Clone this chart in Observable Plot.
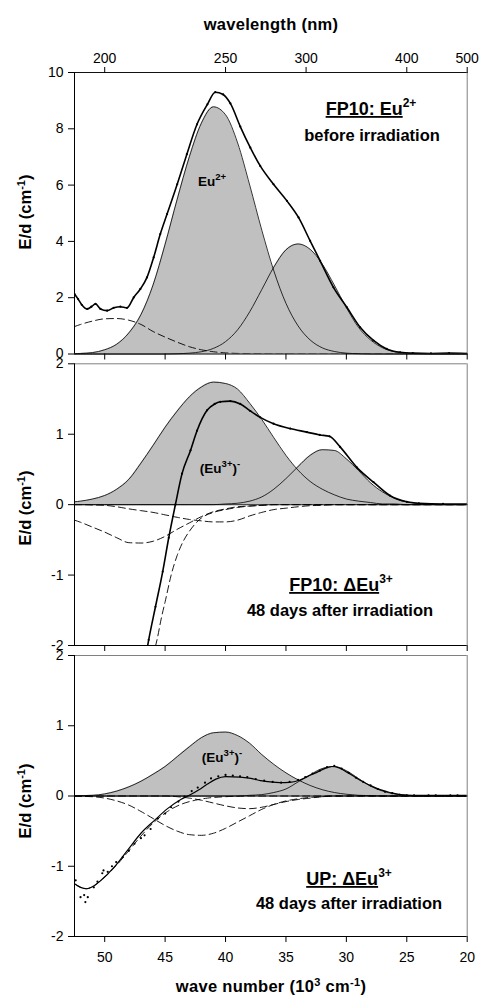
<!DOCTYPE html>
<html><head><meta charset="utf-8">
<script src="https://cdn.jsdelivr.net/npm/d3@7"></script>
<script src="https://cdn.jsdelivr.net/npm/@observablehq/plot@0.6"></script>
<style>
body{margin:0;background:#fff;}
#wrap{position:relative;width:480px;height:998px;background:#fff;}
#wrap > svg{position:absolute;left:0;}
#overlay{position:absolute;left:0;top:0;pointer-events:none;}
</style></head><body><div id="wrap"></div>
<script>
// ---------- data (wave number in 10^3 cm^-1) ----------
const WN = [52.5,52,51,50,49,48,47,46,45,44,43,42,41,40,39,38,37,36,35,34,33,32,31,30,29,28,27,26,25,24,23,22,21,20];
const wnTicks = [50,45,40,35,30,25,20];
const wlTicks = [200,250,300,400,500];
const topYTicks = [0,2,4,6,8,10];
const diffYTicks = [-2,-1,0,1,2];

// Panel 1: FP10 Eu2+ before irradiation
const topEu2    = [0.01,0.02,0.05,0.15,0.35,0.75,1.4,2.45,3.9,5.5,7.0,8.2,8.78,8.5,7.5,6.0,4.4,2.95,1.8,1.0,0.5,0.22,0.09,0.03,0.01,0,0,0,0,0,0,0,0,0];
const topBand2  = [0,0,0,0,0,0,0,0,0,0.01,0.03,0.08,0.2,0.44,0.86,1.5,2.29,3.09,3.70,3.91,3.72,3.2,2.45,1.65,0.95,0.5,0.22,0.08,0.03,0.01,0,0,0,0];
const topDash   = [0.975,1.05,1.17,1.25,1.26,1.2,1.05,0.8,0.6,0.42,0.26,0.15,0.08,0.04,0.02,0.01,0.005,0,0,0,0,0,0,0,0,0,0,0,0,0,0,0,0,0];
const topDataX  = [52.5,52.2,51.9,51.45,51.1,50.76,50.35,49.8,49.25,48.7,48.15,47.6,47.05,46.5,45.95,45.4,44.84,44.0,43.2,42.36,41.5,40.85,40.2,39.6,38.78,37.95,37.13,36.03,34.92,33.96,33.0,32.17,31.07,29.96,28.86,27.76,26.66,25.55,24.5,23.0,21.5,20];
const topDataY  = [2.13,1.95,1.75,1.6,1.68,1.78,1.6,1.54,1.64,1.68,1.64,2.01,2.31,2.72,3.43,4.26,4.97,6.03,7.1,8.16,8.87,9.3,9.22,8.9,8.08,7.33,6.68,6.03,5.44,4.85,4.02,3.31,2.37,1.66,0.95,0.48,0.18,0.06,0.03,0.02,0.03,0.02];

// Panel 2: FP10 dEu3+ 48 days after irradiation
const midEu3    = [0.04,0.05,0.08,0.13,0.22,0.36,0.59,0.84,1.1,1.33,1.53,1.67,1.74,1.72,1.64,1.44,1.21,0.95,0.7,0.49,0.33,0.22,0.14,0.08,0.05,0.03,0.01,0.01,0,0,0,0,0,0];
const midBand2  = [0,0,0,0,0,0,0,0,0,0,0,0,0,0.01,0.02,0.05,0.11,0.22,0.37,0.54,0.70,0.78,0.77,0.65,0.485,0.31,0.18,0.09,0.04,0.015,0.005,0,0,0];
const midDashA  = [-0.22,-0.25,-0.32,-0.39,-0.47,-0.54,-0.545,-0.52,-0.45,-0.35,-0.26,-0.17,-0.1,-0.06,-0.03,-0.02,-0.01,0,0,0,0,0,0,0,0,0,0,0,0,0,0,0,0,0];
const midDashB  = [0,0,-0.005,-0.01,-0.03,-0.06,-0.085,-0.11,-0.145,-0.18,-0.21,-0.23,-0.245,-0.245,-0.22,-0.16,-0.11,-0.07,-0.05,-0.03,-0.015,-0.01,0,0,0,0,0,0,0,0,0,0,0,0];
const midDashCX = [47,46.5,46,45.67,45.3,45,44.5,44,43.5,43,42.5,42,41,40,39,38,37,36,34,20];
const midDashCY = [-3.4,-2.6,-2.15,-1.92,-1.6,-1.38,-1.0,-0.72,-0.52,-0.38,-0.27,-0.19,-0.11,-0.07,-0.04,-0.02,-0.01,0,0,0];
const midDataX  = [46.7,46.36,45.8,45.2,44.7,44.15,43.6,42.9,42.36,41.53,40.9,40.43,39.6,38.78,37.95,37.13,36.03,34.65,33.27,32.2,31.4,30.52,29.14,27.76,26.4,25.0,24,22,20];
const midDataY  = [-2.25,-1.92,-1.45,-0.95,-0.47,0,0.44,0.77,1.05,1.34,1.43,1.46,1.47,1.43,1.33,1.24,1.15,1.08,1.03,0.99,0.97,0.82,0.53,0.32,0.13,0.04,0.02,0.01,0.01];

// Panel 3: UP dEu3+ 48 days after irradiation
const botEu3    = [0,0.005,0.01,0.03,0.07,0.13,0.21,0.31,0.42,0.56,0.7,0.83,0.9,0.91,0.86,0.75,0.59,0.45,0.33,0.23,0.15,0.09,0.05,0.025,0.01,0.005,0,0,0,0,0,0,0,0];
const botBand2  = [0,0,0,0,0,0,0,0,0,0,0,0,0,0,0,0.01,0.02,0.05,0.1,0.2,0.3,0.39,0.42,0.36,0.25,0.14,0.07,0.03,0.01,0,0,0,0,0];
const botDashA  = [0,-0.005,-0.01,-0.03,-0.07,-0.13,-0.22,-0.32,-0.42,-0.5,-0.55,-0.56,-0.53,-0.46,-0.37,-0.28,-0.19,-0.12,-0.07,-0.04,-0.02,-0.01,0,0,0,0,0,0,0,0,0,0,0,0];
const botDashB  = [0,0,0,0,0,0,0,0,0,-0.01,-0.03,-0.06,-0.1,-0.14,-0.17,-0.18,-0.16,-0.12,-0.08,-0.05,-0.03,-0.01,0,0,0,0,0,0,0,0,0,0,0,0];
const botDashCX = [52.5,52,51.5,51,50.3,49.2,48.1,47.0,45.9,44.8,43.7,42.5,41.5,40,38,36,20];
const botDashCY = [-1.25,-1.3,-1.32,-1.29,-1.2,-1.02,-0.8,-0.57,-0.37,-0.22,-0.12,-0.06,-0.03,-0.01,0,0,0];
const botFitX   = [52.5,52,51.5,51,50.3,49.2,48.1,47.0,45.9,44.8,43.7,43.0,42.2,41.5,40.8,40.0,38.8,37.9,37.1,36.3,35.5,34.7,33.96,33.2,32.4,31.8,31.2,30.6,29.96,29.3,28.6,27.9,27.2,26.4,25.6,24.5,22,20];
const botFitY   = [-1.25,-1.3,-1.32,-1.29,-1.2,-1.01,-0.77,-0.53,-0.35,-0.18,-0.05,0.01,0.09,0.17,0.24,0.275,0.27,0.25,0.22,0.2,0.19,0.195,0.22,0.28,0.34,0.39,0.42,0.4,0.34,0.27,0.2,0.14,0.09,0.05,0.02,0.01,0.01,0.01];
const botMeasX  = [52.4,52.0,51.7,51.6,51.4,50.9,50.6,50.2,50.1,49.75,49.4,49.05,48.5,48.0,47.54,47.0,46.7,46.2,45.6,45.0,44.5,43.9,43.4,42.8,42.3,41.7,41.2,40.6,40.0,39.4,38.8,38.2,37.5,36.8,36.1,35.4,34.7,34.0,33.4,32.8,32.2,31.6,31.0,30.4,29.8,29.2,28.6,28.0,27.4,26.8,26.2,25.6,25.0,24.4,23.8,23.2,22.6,22.0,21.4,20.8,20.2];
const botMeasY  = [-1.2,-1.44,-1.41,-1.51,-1.44,-1.3,-1.22,-1.1,-1.06,-1.08,-1.0,-0.94,-0.87,-0.78,-0.68,-0.6,-0.56,-0.47,-0.32,-0.25,-0.16,-0.08,-0.01,0.07,0.12,0.19,0.25,0.28,0.3,0.29,0.28,0.27,0.24,0.22,0.2,0.19,0.2,0.23,0.27,0.32,0.36,0.41,0.43,0.39,0.33,0.26,0.2,0.15,0.1,0.06,0.04,0.02,0.01,0.01,0.0,0.01,0.01,0.0,0.01,0.01,0.0];

// ---------- drawing ----------
const FONT = '"Liberation Sans", Arial, sans-serif';
const pts = (xs, ys) => xs.map((x, i) => ({x, y: ys[i]}));

function panel(o) {
  const marks = [];
  for (const g of o.fills) marks.push(Plot.areaY(pts(WN, g), {x: "x", y: "y", fill: "#c0c0c0", curve: "monotone-x"}));
  if (o.zero) marks.push(Plot.ruleY([0], {stroke: "#4a4a4a", strokeWidth: 1.3}));
  for (const g of o.fills) marks.push(Plot.line(pts(WN, g), {x: "x", y: "y", stroke: "#000", strokeWidth: 0.8, curve: "monotone-x"}));
  for (const [xs, ys] of o.dashed) marks.push(Plot.line(pts(xs, ys), {x: "x", y: "y", stroke: "#000", strokeWidth: 0.9, strokeDasharray: "7,4", curve: "monotone-x", clip: true}));
  for (const [xs, ys, w] of o.lines) marks.push(Plot.line(pts(xs, ys), {x: "x", y: "y", stroke: "#000", strokeWidth: w, curve: "monotone-x", clip: true}));
  for (const [xs, ys] of o.dots) marks.push(Plot.dot(pts(xs, ys), {x: "x", y: "y", r: 1.1, fill: "#000", stroke: "none", clip: true}));
  marks.push(Plot.ruleX([20], {stroke: "#808080", strokeWidth: 1}));
  marks.push(Plot.ruleY([o.yDomain[1]], {stroke: o.topAxis ? "#111" : "#808080", strokeWidth: 1}));
  marks.push(Plot.ruleX([52.5], {stroke: "#000", strokeWidth: 1}));
  marks.push(Plot.ruleY([o.yDomain[0]], {stroke: "#000", strokeWidth: 1}));
  marks.push(Plot.axisY(o.yTicks, {anchor: "left", tickSize: 6, tickPadding: 5, tickFormat: d => String(d), label: null}));
  marks.push(Plot.axisX(wnTicks, {anchor: "bottom", tickSize: 6, tickPadding: 10, tickFormat: o.xLabels ? d => String(d) : () => "", label: null}));
  if (o.topAxis) marks.push(Plot.axisX(wlTicks.map(w => 1e4 / w), {anchor: "top", tickSize: 6, tickPadding: 4, tickFormat: v => String(Math.round(1e4 / v)), label: null}));
  const svg = Plot.plot({
    width: 480, height: o.height,
    marginLeft: 74, marginRight: 13.3, marginTop: o.mt, marginBottom: o.mb,
    x: {domain: [52.5, 20]},
    y: {domain: o.yDomain},
    style: {fontFamily: FONT, fontSize: "14px", background: "transparent", color: "#000", overflow: "visible"},
    marks
  });
  svg.style.top = o.top + "px";
  return svg;
}

const wrap = document.getElementById("wrap");
wrap.append(panel({
  top: 0, height: 359, mt: 72, mb: 5.5, yDomain: [0, 10], yTicks: topYTicks, topAxis: true, zero: false,
  fills: [topEu2, topBand2],
  dashed: [[WN, topDash]],
  lines: [[topDataX, topDataY, 1.6]],
  dots: [[topDataX, topDataY]]
}));
wrap.append(panel({
  top: 359, height: 292, mt: 4.3, mb: 6, yDomain: [-2, 2], yTicks: diffYTicks, zero: true,
  fills: [midEu3, midBand2],
  dashed: [[WN, midDashA], [WN, midDashB], [midDashCX, midDashCY]],
  lines: [[midDataX, midDataY, 1.6]],
  dots: [[midDataX, midDataY]]
}));
wrap.append(panel({
  top: 651, height: 347, mt: 4, mb: 62, yDomain: [-2, 2], yTicks: diffYTicks, zero: true, xLabels: true,
  fills: [botEu3, botBand2],
  dashed: [[WN, botDashA], [WN, botDashB], [botDashCX, botDashCY]],
  lines: [[botFitX, botFitY, 1.2]],
  dots: [[botMeasX, botMeasY]]
}));

// ---------- titles and labels ----------
const ns = "http://www.w3.org/2000/svg";
const ov = document.createElementNS(ns, "svg");
ov.setAttribute("id", "overlay");
ov.setAttribute("width", 480); ov.setAttribute("height", 998);
ov.innerHTML = `
<g font-family='${FONT}' font-weight="bold" fill="#000" text-anchor="middle">
  <text x="271" y="30" font-size="16.5" letter-spacing="0.3">wavelength (nm)</text>
  <text x="271" y="992" font-size="16.5" letter-spacing="0.3">wave number (10<tspan dy="-6" font-size="11">3</tspan><tspan dy="6"> cm</tspan><tspan dy="-6" font-size="11">-1</tspan><tspan dy="6">)</tspan></text>
  <text transform="translate(31,212) rotate(-90)" font-size="16.5">E/d (cm<tspan dy="-6" font-size="11">-1</tspan><tspan dy="6">)</tspan></text>
  <text transform="translate(31,508) rotate(-90)" font-size="16.5">E/d (cm<tspan dy="-6" font-size="11">-1</tspan><tspan dy="6">)</tspan></text>
  <text transform="translate(31,801) rotate(-90)" font-size="16.5">E/d (cm<tspan dy="-6" font-size="11">-1</tspan><tspan dy="6">)</tspan></text>

  <text x="371" y="115" font-size="18"><tspan text-decoration="underline">FP10: Eu</tspan><tspan dy="-8" font-size="12">2+</tspan></text>
  <text x="372" y="141" font-size="16.5">before irradiation</text>
  <text x="212" y="186" font-size="13.5">Eu<tspan dy="-6" font-size="9.5">2+</tspan></text>

  <text x="220" y="473" font-size="13.5">(Eu<tspan dy="-6" font-size="9.5">3+</tspan><tspan dy="6">)</tspan><tspan dy="-6" font-size="9.5">-</tspan></text>
  <text x="341" y="591" font-size="18"><tspan text-decoration="underline">FP10: ΔEu</tspan><tspan dy="-8" font-size="12">3+</tspan></text>
  <text x="340" y="616" font-size="16.5">48 days after irradiation</text>

  <text x="222" y="762" font-size="13.5">(Eu<tspan dy="-6" font-size="9.5">3+</tspan><tspan dy="6">)</tspan><tspan dy="-6" font-size="9.5">-</tspan></text>
  <text x="349" y="885" font-size="18"><tspan text-decoration="underline">UP: ΔEu</tspan><tspan dy="-8" font-size="12">3+</tspan></text>
  <text x="349" y="909" font-size="16.5">48 days after irradiation</text>
</g>`;
wrap.append(ov);
</script></body></html>
